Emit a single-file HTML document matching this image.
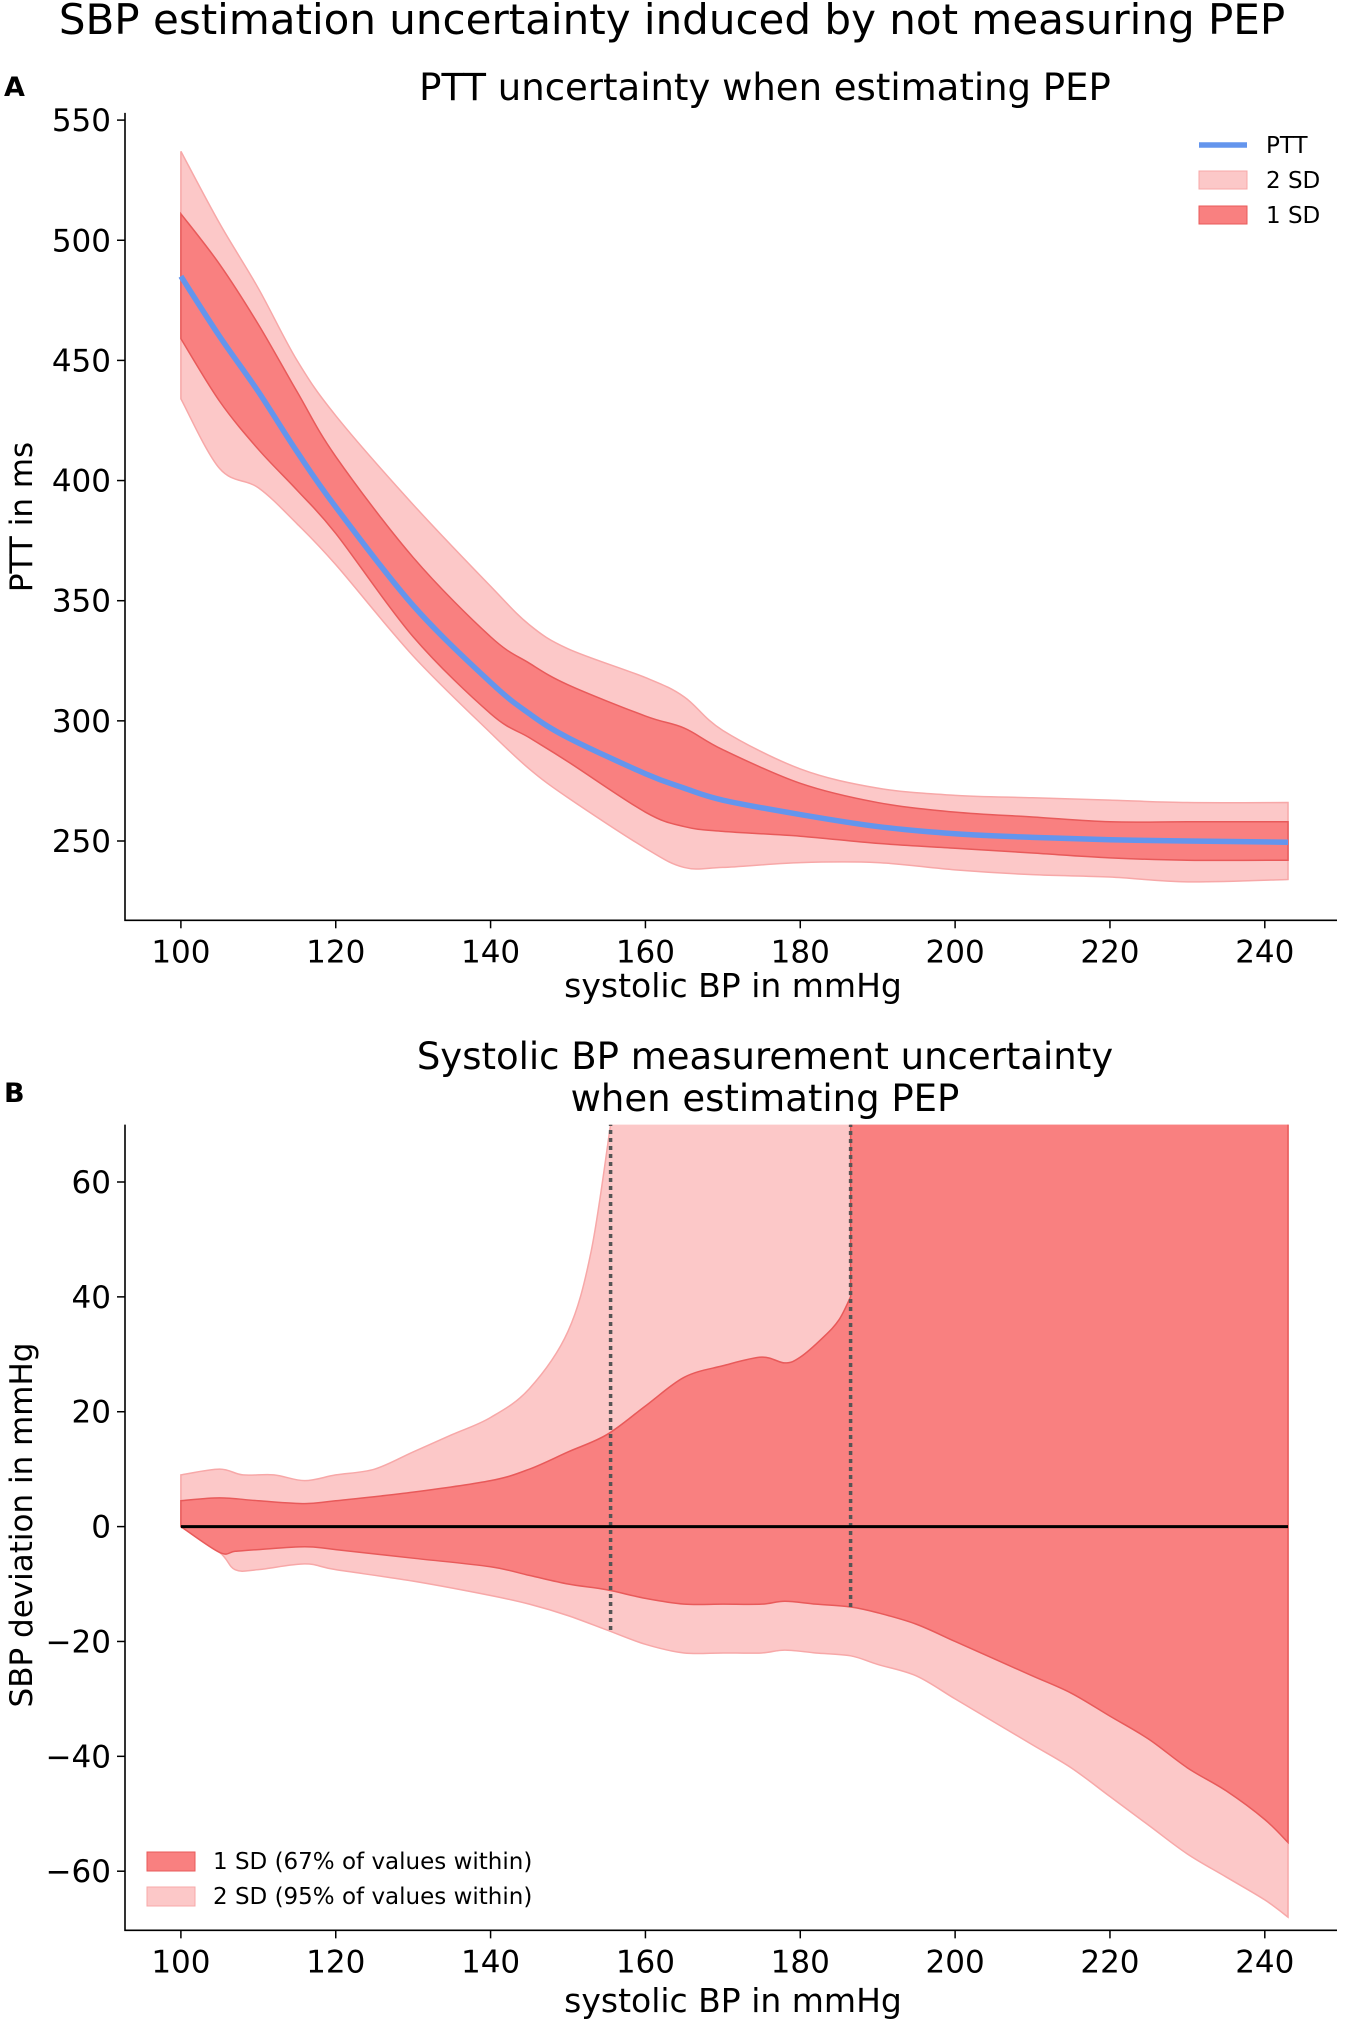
<!DOCTYPE html>
<html><head><meta charset="utf-8"><style>
body{margin:0;background:#fff}
svg{display:block;font-family:"DejaVu Sans","Liberation Sans",sans-serif}
</style></head><body>
<svg id="fig" width="1350" height="2027" viewBox="0 0 1350 2027" xmlns="http://www.w3.org/2000/svg">
<text x="672" y="34" font-size="42" text-anchor="middle">SBP estimation uncertainty induced by not measuring PEP</text>
<text x="4" y="96" font-size="27" font-weight="bold">A</text>
<text x="765" y="100" font-size="37" text-anchor="middle">PTT uncertainty when estimating PEP</text>
<text x="4" y="1102" font-size="27" font-weight="bold">B</text>
<text x="765" y="1069" font-size="37" text-anchor="middle">Systolic BP measurement uncertainty</text>
<text x="765" y="1111" font-size="37" text-anchor="middle">when estimating PEP</text>
<g id="pa"></g>
<g id="pb"></g>
</svg>
<script>
// Panel A data
const aX = [100,105,110,115,120,130,140,145,150,160,165,170,180,190,200,210,220,230,243];
const aPTT = [485,460,437,412,389,348,316,303,293,278,272,267,261,256,253,251.5,250.5,250,249.5];
const a1Up = [511,490,465,437,410,368,335,324,315,302,297,288,274,266,262,260,258,258,258];
const a1Lo = [459,433,413,396,378,335,303,293,283,262,256,254,252,249,247,245,243,242,242];
const a2Up = [537,507,480,450,427,390,356,340,330,318,310,296,280,272,269,268,267,266,266];
const a2Lo = [434,405,397,382,365,327,295,280,268,247,239,239,241,241,238,236,235,233,234];
const aYTicks = [250,300,350,400,450,500,550];
const xTicks = [100,120,140,160,180,200,220,240];
// Panel B data
const b1X = [100,105,110,116,120,130,140,145,150,155,160,165,170,175,178,180,183,185,186.5];
const b1Up = [4.5,5,4.5,4,4.5,6,8,10,13,16,21,26,28,29.5,28.5,29.5,33,36,40];
const b2X = [100,105,108,112,116,120,125,130,135,140,145,150,153,155.5];
const b2Up = [9,10,9,9,8,9,10,13,16,19,24,34,48,70];
const bLoX = [100,105,107,110,116,120,130,140,145,150,155,160,165,170,175,178,182,186.5,190,195,200,205,210,215,220,225,230,235,240,243];
const b1Lo = [0,-4.5,-4.3,-4,-3.5,-4,-5.5,-7,-8.5,-10,-11,-12.5,-13.5,-13.5,-13.5,-13,-13.5,-14,-15,-17,-20,-23,-26,-29,-33,-37,-42,-46,-51,-55];
const b2Lo = [0,-4.5,-7.5,-7.5,-6.5,-7.5,-9.5,-12,-13.5,-15.5,-18,-20.5,-22,-22,-22,-21.5,-22,-22.5,-24,-26,-30,-34,-38,-42,-47,-52,-57,-61,-65,-68];
const bYTicks = [-60,-40,-20,0,20,40,60];
const bVLines = [155.5,186.5];
const bVLo = [-18,-14];

const NS="http://www.w3.org/2000/svg";
function mk(p,t,a){const e=document.createElementNS(NS,t);for(const k in a)e.setAttribute(k,a[k]);p.appendChild(e);return e;}
const sx = v => 180.9 + (v-100)*(1264.8-180.9)/140;
const syA = v => 841 - (v-250)*(841-120.1)/300;
const syB = v => 1526.6 - v*(1526.6-1182)/60;
const C1="#f98080", C1e="#e85a5a", C2="#fcc8c8", C2e="#f7a8a8";

function smooth(pts, cont){
  let d = (cont?"L":"M")+pts[0][0]+","+pts[0][1];
  for(let i=0;i<pts.length-1;i++){
    const p0=pts[Math.max(0,i-1)], p1=pts[i], p2=pts[i+1], p3=pts[Math.min(pts.length-1,i+2)];
    const c1=[p1[0]+(p2[0]-p0[0])/6, p1[1]+(p2[1]-p0[1])/6];
    const c2=[p2[0]-(p3[0]-p1[0])/6, p2[1]-(p3[1]-p1[1])/6];
    d+="C"+c1[0]+","+c1[1]+" "+c2[0]+","+c2[1]+" "+p2[0]+","+p2[1];
  }
  return d;
}
function band(g,xs,up,lo,sy,fill,edge,name,xsLo,tail){
  xsLo = xsLo||xs;
  let d=smooth(xs.map((x,i)=>[sx(x),sy(up[i])]),false);
  if(tail) tail.forEach(p=>{d+="L"+sx(p[0])+","+sy(p[1]);});
  const lp=[];for(let i=xsLo.length-1;i>=0;i--) lp.push([sx(xsLo[i]),sy(lo[i])]);
  d+=smooth(lp,true);
  const p=mk(g,"path",{d:d+"Z",fill:fill,stroke:edge,"stroke-width":1.5});
  
  
  return p;
}
function axes(g,sy,yt,yMin,yMax,xlabel,ylabel,xl,ylab){
  const left=125, right=1337, top=sy(yMax), bot=sy(yMin);
  const sp=mk(g,"path",{d:`M${left},${top}L${left},${bot}L${right},${bot}`,fill:"none",stroke:"#000","stroke-width":1.6});
  
  
  yt.forEach(v=>{
    mk(g,"line",{x1:left-8,x2:left,y1:sy(v),y2:sy(v),stroke:"#000","stroke-width":1.5});
    const t=mk(g,"text",{x:left-14,y:sy(v)+11,"font-size":31,"text-anchor":"end"});
    t.textContent=(v<0?"\u2212"+(-v):v);
    
    
  });
  xTicks.forEach(v=>{
    mk(g,"line",{x1:sx(v),x2:sx(v),y1:bot,y2:bot+8,stroke:"#000","stroke-width":1.5});
    const t=mk(g,"text",{x:sx(v),y:bot+42,"font-size":31,"text-anchor":"middle"});
    t.textContent=v;
    
    
  });
  const xt=mk(g,"text",{x:733,y:xl,"font-size":33,"text-anchor":"middle"});
  xt.textContent=xlabel;
  
  
  const yy=mk(g,"text",{x:0,y:0,"font-size":31,"text-anchor":"middle",transform:`translate(32,${ylab}) rotate(-90)`});
  yy.textContent=ylabel;
  
  
}
// Panel A
const pa=document.getElementById("pa");
band(pa,aX,a2Up,a2Lo,syA,C2,C2e,"band-2sd");
band(pa,aX,a1Up,a1Lo,syA,C1,C1e,"band-1sd");
const line=mk(pa,"path",{d:smooth(aX.map((x,i)=>[sx(x),syA(aPTT[i])]),false),fill:"none",stroke:"#6495ED","stroke-width":5.5,"stroke-linejoin":"round"});


axes(pa,syA,aYTicks,217,553,"systolic BP in mmHg","PTT in ms",997,517);
const la=mk(pa,"g",{});


mk(la,"line",{x1:1199,x2:1247,y1:145,y2:145,stroke:"#6495ED","stroke-width":5.5});
mk(la,"rect",{x:1199,y:171,width:48,height:18,fill:C2,stroke:C2e});
mk(la,"rect",{x:1199,y:206,width:48,height:18,fill:C1,stroke:C1e});
[["PTT",153],["2 SD",188],["1 SD",223]].forEach(([s,y])=>{const t=mk(la,"text",{x:1266,y:y,"font-size":23});t.textContent=s;

});
// Panel B
const pb=document.getElementById("pb");
const clip=mk(pb,"clipPath",{id:"cb"});mk(clip,"rect",{x:125,y:syB(70),width:1212,height:syB(-71)-syB(70)});
const gb=mk(pb,"g",{"clip-path":"url(#cb)"});
band(gb,b2X,b2Up,b2Lo,syB,C2,C2e,"band-2sd",bLoX,[[155.5,80],[243,80]]);
band(gb,b1X,b1Up,b1Lo,syB,C1,C1e,"band-1sd",bLoX,[[186.5,80],[243,80]]);
bVLines.forEach((x,i)=>{
  const l=mk(gb,"line",{x1:sx(x),x2:sx(x),y1:syB(bVLo[i]),y2:syB(70),stroke:"#555","stroke-width":3.5,"stroke-dasharray":"4,4"});
  
  
});
const zl=mk(pb,"line",{x1:sx(100),x2:sx(243),y1:syB(0),y2:syB(0),stroke:"#000","stroke-width":3});


axes(pb,syB,bYTicks,-70.3,70,"systolic BP in mmHg","SBP deviation in mmHg",2012,1525);
const lb=mk(pb,"g",{});


mk(lb,"rect",{x:147,y:1852,width:48,height:19,fill:C1,stroke:C1e});
mk(lb,"rect",{x:147,y:1887,width:48,height:19,fill:C2,stroke:C2e});
[["1 SD (67% of values within)",1869],["2 SD (95% of values within)",1904]].forEach(([s,y])=>{const t=mk(lb,"text",{x:213,y:y,"font-size":23});t.textContent=s;

});
</script>
</body></html>
